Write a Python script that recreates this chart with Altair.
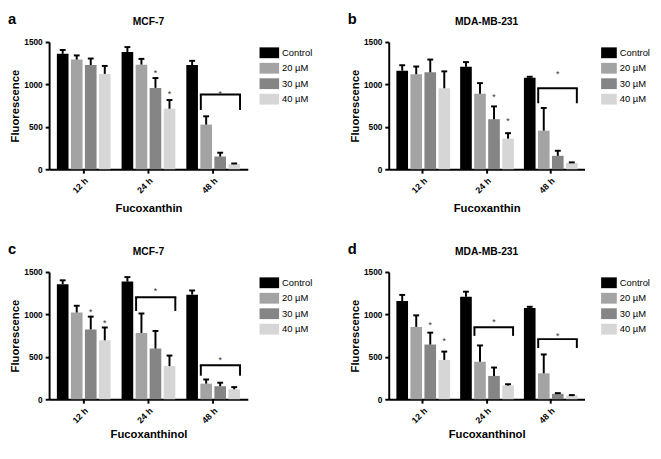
import altair as alt
import pandas as pd

times = ["12 h", "24 h", "48 h"]
treatments = ["Control", "20 µM", "30 µM", "40 µM"]
colors = ["#000000", "#a3a3a3", "#858585", "#d6d6d6"]

# Panel a: MCF-7, Fucoxanthin  (rows = times, cols = treatments)
a_mean = [[1361, 1293, 1229, 1124], [1383, 1233, 959, 714], [1229, 526, 150, 60]]
a_sem = [[45, 49, 76, 94], [57, 68, 116, 102], [49, 98, 45, 8]]
a_stars = [("24 h", "30 µM", 1154), ("24 h", "40 µM", 914)]
a_brackets = [("48 h", 880, 699, 914)]

# Panel b: MDA-MB-231, Fucoxanthin
b_mean = [[1162, 1120, 1143, 955], [1207, 891, 590, 361], [1079, 455, 158, 75]]
b_sem = [[64, 91, 150, 199], [56, 124, 151, 64], [11, 267, 60, 6]]
b_stars = [("24 h", "30 µM", 872), ("24 h", "40 µM", 590)]
b_brackets = [("48 h", 955, 778, 1150)]

# Panel c: MCF-7, Fucoxanthinol
c_mean = [[1357, 1023, 823, 695], [1387, 782, 598, 391], [1233, 184, 154, 117]]
c_sem = [[45, 79, 151, 151], [53, 229, 207, 124], [49, 49, 41, 26]]
c_stars = [("12 h", "30 µM", 1053), ("12 h", "40 µM", 925)]
c_brackets = [("24 h", 1203, 1041, 1293), ("48 h", 402, 278, 485)]

# Panel d: MDA-MB-231, Fucoxanthinol
d_mean = [[1158, 853, 645, 464], [1208, 442, 275, 162], [1075, 306, 64, 45]]
d_sem = [[72, 136, 140, 98], [60, 192, 99, 15], [15, 222, 8, 4]]
d_stars = [("12 h", "30 µM", 894), ("12 h", "40 µM", 706)]
d_brackets = [("24 h", 849, 747, 932), ("48 h", 709, 604, 770)]

FONT = "Liberation Sans"
WIDE_SWATCH = "M-1.25,-0.69H1.25V0.69H-1.25Z"
NARROW_SWATCH = "M-1,-0.69H1V0.69H-1Z"


def panel(letter, title, xtitle, mean, sem, stars, brackets, width, height,
          xtitle_pad, legend_offset, swatch, label_offset):
    rows = []
    for ti, t in enumerate(times):
        for ki, k in enumerate(treatments):
            m = mean[ti][ki]
            rows.append({"time": t, "treat": k, "mean": m, "top": m + sem[ti][ki]})
    df = pd.DataFrame(rows)
    sdf = pd.DataFrame(stars, columns=["time", "treat", "y"])
    bdf = pd.DataFrame(brackets, columns=["time", "top", "bottom", "star"])
    bdf["treat"] = "30 µM"

    xscale = alt.Scale(domain=times, paddingInner=0.17, paddingOuter=0.12)
    x = alt.X("time:N", sort=times, scale=xscale,
              axis=alt.Axis(title=xtitle, labelAngle=-45, titlePadding=xtitle_pad,
                            labelFontSize=9, labelPadding=3))
    xo = alt.XOffset("treat:N", sort=treatments,
                     scale=alt.Scale(domain=treatments, paddingInner=0.17, paddingOuter=0))
    yscale = alt.Scale(domain=[0, 1500], nice=False)
    y = alt.Y("mean:Q", scale=yscale,
              axis=alt.Axis(title="Fluorescence", values=[0, 500, 1000, 1500],
                            format="d", titlePadding=3, labelFontSize=8.5,
                            labelPadding=3))

    bars = alt.Chart(df).mark_bar().encode(
        x=x, xOffset=xo, y=y,
        color=alt.Color("treat:N", sort=treatments,
                        scale=alt.Scale(domain=treatments, range=colors),
                        legend=alt.Legend(title=None, orient="right", offset=legend_offset,
                                          symbolType=swatch,
                                          symbolSize=256, symbolStrokeWidth=0,
                                          symbolOpacity=1, labelFont=FONT,
                                          labelFontSize=9.6, labelColor="black",
                                          labelOffset=label_offset, rowPadding=1.8,
                                          padding=3)),
    )
    err = alt.Chart(df).mark_rule(color="black", strokeWidth=2).encode(
        x=x, xOffset=xo, y=alt.Y("mean:Q", scale=yscale), y2="top:Q")
    caps = alt.Chart(df).mark_tick(color="black", thickness=2, size=6,
                                   orient="horizontal", opacity=1).encode(
        x=x, xOffset=xo, y=alt.Y("top:Q", scale=yscale))
    star_marks = alt.Chart(sdf).mark_text(text="*", fontSize=9, color="#333333",
                                          baseline="middle", dy=2, font=FONT).encode(
        x=x, xOffset=xo, y=alt.Y("y:Q", scale=yscale))
    hline = alt.Chart(bdf).mark_rule(color="black", strokeWidth=2, strokeCap="square").encode(
        x=alt.X("time:N", sort=times, scale=xscale, bandPosition=0.27),
        x2=alt.X2("time:N", bandPosition=1.0),
        y=alt.Y("top:Q", scale=yscale))
    lleg = alt.Chart(bdf).mark_rule(color="black", strokeWidth=2).encode(
        x=alt.X("time:N", sort=times, scale=xscale, bandPosition=0.27),
        y=alt.Y("bottom:Q", scale=yscale), y2="top:Q")
    rleg = alt.Chart(bdf).mark_rule(color="black", strokeWidth=2).encode(
        x=alt.X("time:N", sort=times, scale=xscale, bandPosition=1.0),
        y=alt.Y("bottom:Q", scale=yscale), y2="top:Q")
    bstar = alt.Chart(bdf).mark_text(text="*", fontSize=9, color="#333333",
                                     baseline="middle", dy=2, font=FONT).encode(
        x=x, xOffset=xo, y=alt.Y("star:Q", scale=yscale))
    lab = pd.DataFrame({"letter": [letter], "title": [title]})
    let = alt.Chart(lab).mark_text(
        align="left", baseline="top", fontSize=15, fontWeight="bold",
        font=FONT, color="black", x=-42, y=-30).encode(text="letter:N")
    ttl = alt.Chart(lab).mark_text(
        align="center", baseline="alphabetic", fontSize=10.5, fontWeight="bold",
        font=FONT, color="black", x=width / 2, y=-17).encode(text="title:N")

    return alt.layer(bars, err, caps, star_marks, hline, lleg, rleg, bstar, let, ttl).properties(
        width=width, height=height,
    )


pa = panel("a", "MCF-7", "Fucoxanthin", a_mean, a_sem, a_stars, a_brackets,
           203, 130, 8, 11, WIDE_SWATCH, 5)
pb = panel("b", "MDA-MB-231", "Fucoxanthin", b_mean, b_sem, b_stars, b_brackets,
           200, 130, 8, 14, NARROW_SWATCH, 3)
pc = panel("c", "MCF-7", "Fucoxanthinol", c_mean, c_sem, c_stars, c_brackets,
           203, 130, 4, 11, WIDE_SWATCH, 5)
pd_ = panel("d", "MDA-MB-231", "Fucoxanthinol", d_mean, d_sem, d_stars, d_brackets,
            200, 130, 4, 14, NARROW_SWATCH, 3)

chart = alt.concat(
    pa, pb, pc, pd_, columns=2, spacing={"row": 105, "column": 144}, bounds="flush"
).resolve_legend(color="independent").properties(
    padding={"left": 0, "top": 0, "right": 0, "bottom": 0}
).configure_view(
    stroke=None
).configure_axis(
    grid=False, domainColor="black", domainWidth=2, tickColor="black", tickWidth=2,
    tickSize=4, labelFont=FONT, labelFontWeight="bold",
    labelColor="black", titleFont=FONT, titleFontWeight="bold",
    titleFontSize=11.5, titleColor="black",
)

chart.save("out.html", embed_options={"renderer": "svg", "actions": False})
